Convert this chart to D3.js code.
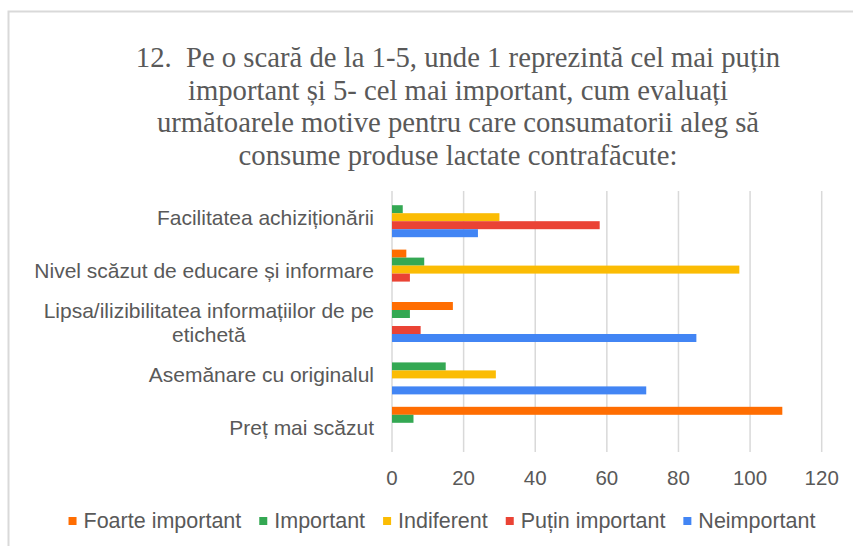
<!DOCTYPE html>
<html>
<head>
<meta charset="utf-8">
<script src="https://cdn.jsdelivr.net/npm/d3@7"></script>
<style>
  body { margin: 0; background: #fff; }
  text { font-family: "Liberation Sans", Arial, sans-serif; }
</style>
</head>
<body>
<div id="chart"></div>
<script>
// categories, top to bottom as drawn
var categories = [
  "Facilitatea achiziționării",
  "Nivel scăzut de educare și informare",
  "Lipsa/ilizibilitatea informațiilor de pe etichetă",
  "Asemănare cu originalul",
  "Preț mai scăzut"
];
// label lines (long label wraps in two)
var labelLines = [
  ["Facilitatea achiziționării"],
  ["Nivel scăzut de educare și informare"],
  ["Lipsa/ilizibilitatea informațiilor de pe", "etichetă"],
  ["Asemănare cu originalul"],
  ["Preț mai scăzut"]
];

var series = ["Foarte important", "Important", "Indiferent", "Puțin important", "Neimportant"];
var colors = ["#ff6d01", "#34a853", "#fbbc04", "#ea4335", "#4285f4"];

// values per series, in category order
var foarteImportant = [0, 4, 17, 0, 109];
var important       = [3, 9, 5, 15, 6];
var indiferent      = [30, 97, 0, 29, 0];
var putinImportant  = [58, 5, 8, 0, 0];
var neimportant     = [24, 0, 85, 71, 0];

var xTicks = [0, 20, 40, 60, 80, 100, 120];

var titleLines = [
  "12.  Pe o scară de la 1-5, unde 1 reprezintă cel mai puțin",
  "important și 5- cel mai important, cum evaluați",
  "următoarele motive pentru care consumatorii aleg să",
  "consume produse lactate contrafăcute:"
];

var allValues = [foarteImportant, important, indiferent, putinImportant, neimportant];

var W = 853, H = 546;
var svg = d3.select("#chart").append("svg")
  .attr("width", W)
  .attr("height", H);

// chart border
svg.append("rect")
  .attr("x", 8.5).attr("y", 11.5)
  .attr("width", 900).attr("height", 600)
  .attr("fill", "#fff")
  .attr("stroke", "#d9d9d9")
  .attr("stroke-width", 2);

// title
svg.append("g").selectAll("text")
  .data(titleLines)
  .enter()
  .append("text")
    .attr("x", 458)
    .attr("y", function(d, i) { return 67 + i * 32.5; })
    .attr("text-anchor", "middle")
    .style("font-family", "'Liberation Serif', 'Times New Roman', serif")
    .style("font-size", "28.7px")
    .style("white-space", "pre")
    .attr("fill", "#595959")
    .text(function(d) { return d; });

var x = d3.scaleLinear().domain([0, 120]).range([392, 821.7]);
var y0 = d3.scaleBand().domain(categories).range([191, 453])
  .paddingInner(0.237).paddingOuter(0.1185);
var y1 = d3.scaleBand().domain(series).range([0, y0.bandwidth()]);

// gridlines
svg.append("g").selectAll("line")
  .data(xTicks)
  .enter()
  .append("line")
    .attr("x1", function(d) { return x(d); })
    .attr("x2", function(d) { return x(d); })
    .attr("y1", 191)
    .attr("y2", 452)
    .attr("stroke", "#d9d9d9")
    .attr("stroke-width", 1.5);

// bars
var groups = svg.append("g").selectAll("g")
  .data(categories)
  .enter()
  .append("g")
    .attr("transform", function(d) { return "translate(0," + y0(d) + ")"; });

groups.selectAll("rect")
  .data(function(d, ci) {
    return series.map(function(s, si) { return {s: s, si: si, v: allValues[si][ci]}; })
      .filter(function(e) { return e.v > 0; });
  })
  .enter()
  .append("rect")
    .attr("x", x(0))
    .attr("y", function(d) { return y1(d.s); })
    .attr("width", function(d) { return x(d.v) - x(0); })
    .attr("height", y1.bandwidth())
    .attr("fill", function(d) { return colors[d.si]; });

// x axis tick labels
svg.append("g").selectAll("text")
  .data(xTicks)
  .enter()
  .append("text")
    .attr("x", function(d) { return x(d); })
    .attr("y", 485)
    .attr("text-anchor", "middle")
    .style("font-size", "20.5px")
    .attr("fill", "#595959")
    .text(function(d) { return d; });

// category labels
var lab = svg.append("g").selectAll("text")
  .data(categories)
  .enter()
  .append("text")
    .attr("y", function(d) { return y0(d) + y0.bandwidth() / 2; })
    .style("font-size", "21px")
    .attr("fill", "#595959");

lab.each(function(d, i) {
  var t = d3.select(this);
  var lines = labelLines[i];
  var n = lines.length;
  lines.forEach(function(l, j) {
    t.append("tspan")
      .attr("x", 374)
      .attr("dy", j === 0 ? (8 - (n - 1) * 12) : 24)
      .attr("text-anchor", "end")
      .text(l);
  });
  // center multi-line label block
  if (n > 1) {
    var tsp = t.selectAll("tspan").nodes();
    var widths = tsp.map(function(n) { return n.getComputedTextLength(); });
    var maxW = d3.max(widths);
    var cx = 374 - maxW / 2;
    d3.selectAll(tsp).attr("x", cx).attr("text-anchor", "middle");
  }
});

// legend
var legend = svg.append("g");
var lx = 0;
series.forEach(function(s, i) {
  var g = legend.append("g").attr("transform", "translate(" + lx + ",0)");
  g.append("rect")
    .attr("x", 0).attr("y", 517)
    .attr("width", 8).attr("height", 8)
    .attr("fill", colors[i]);
  var t = g.append("text")
    .attr("x", 15).attr("y", 528)
    .style("font-size", "21.5px")
    .attr("fill", "#595959")
    .text(s);
  lx += 15 + t.node().getComputedTextLength() + 18;
});
var legW = lx - 18;
legend.attr("transform", "translate(" + (442 - legW / 2) + ",0)");
</script>
</body>
</html>
